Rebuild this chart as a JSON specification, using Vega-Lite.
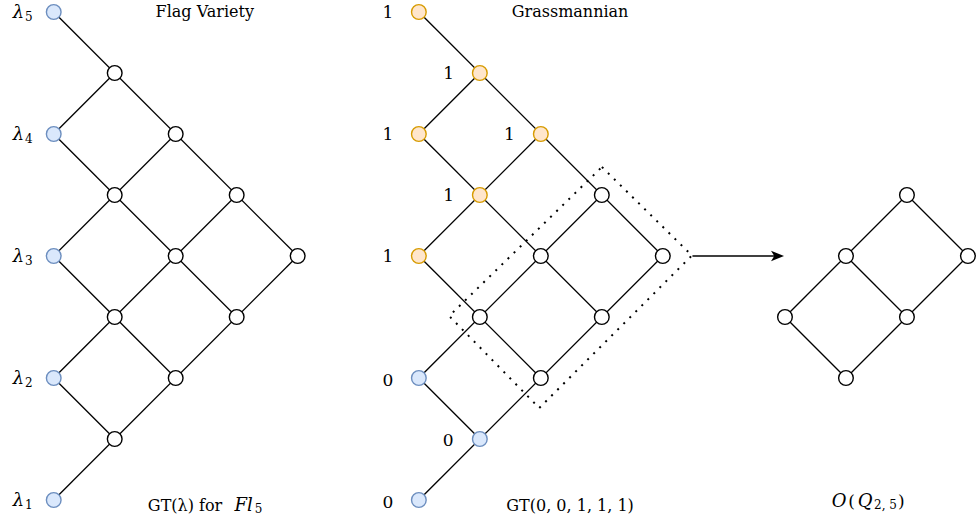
{
  "$schema": "https://vega.github.io/schema/vega-lite/v6.json",
  "width": 979,
  "height": 521,
  "autosize": {"type": "fit", "contains": "padding"},
  "padding": 0,
  "background": "#ffffff",
  "config": {"view": {"stroke": null}},
  "datasets": {
    "edges": [
      {"x": 54, "y": 12, "x2": 299.2, "y2": 256},
      {"x": 54, "y": 134, "x2": 237.9, "y2": 317},
      {"x": 54, "y": 256, "x2": 176.6, "y2": 378},
      {"x": 54, "y": 378, "x2": 115.3, "y2": 439},
      {"x": 54, "y": 500, "x2": 299.2, "y2": 256},
      {"x": 54, "y": 378, "x2": 237.9, "y2": 195},
      {"x": 54, "y": 256, "x2": 176.6, "y2": 134},
      {"x": 54, "y": 134, "x2": 115.3, "y2": 73},
      {"x": 421, "y": 12, "x2": 666.2, "y2": 256},
      {"x": 421, "y": 134, "x2": 604.9, "y2": 317},
      {"x": 421, "y": 256, "x2": 543.6, "y2": 378},
      {"x": 421, "y": 378, "x2": 482.3, "y2": 439},
      {"x": 421, "y": 500, "x2": 666.2, "y2": 256},
      {"x": 421, "y": 378, "x2": 604.9, "y2": 195},
      {"x": 421, "y": 256, "x2": 543.6, "y2": 134},
      {"x": 421, "y": 134, "x2": 482.3, "y2": 73},
      {"x": 789, "y": 317, "x2": 911.6, "y2": 195},
      {"x": 850.3, "y": 378, "x2": 972.9, "y2": 256},
      {"x": 789, "y": 317, "x2": 850.3, "y2": 378},
      {"x": 850.3, "y": 256, "x2": 911.6, "y2": 317},
      {"x": 911.6, "y": 195, "x2": 972.9, "y2": 256},
      {"x": 696, "y": 256, "x2": 782, "y2": 256}
    ],
    "box": [
      {"o": 0, "x": 605, "y": 167},
      {"o": 1, "x": 695.5, "y": 255.5},
      {"o": 2, "x": 542, "y": 408},
      {"o": 3, "x": 451.5, "y": 316},
      {"o": 4, "x": 605, "y": 167}
    ],
    "arrow": [{"x": 781.5, "y": 256}],
    "nodes": [
      {"x": 54, "y": 12, "k": "blue"},
      {"x": 54, "y": 134, "k": "blue"},
      {"x": 54, "y": 256, "k": "blue"},
      {"x": 54, "y": 378, "k": "blue"},
      {"x": 54, "y": 500, "k": "blue"},
      {"x": 115.3, "y": 73, "k": "white"},
      {"x": 176.6, "y": 134, "k": "white"},
      {"x": 115.3, "y": 195, "k": "white"},
      {"x": 237.9, "y": 195, "k": "white"},
      {"x": 176.6, "y": 256, "k": "white"},
      {"x": 299.2, "y": 256, "k": "white"},
      {"x": 115.3, "y": 317, "k": "white"},
      {"x": 237.9, "y": 317, "k": "white"},
      {"x": 176.6, "y": 378, "k": "white"},
      {"x": 115.3, "y": 439, "k": "white"},
      {"x": 421, "y": 12, "k": "orange"},
      {"x": 482.3, "y": 73, "k": "orange"},
      {"x": 421, "y": 134, "k": "orange"},
      {"x": 543.6, "y": 134, "k": "orange"},
      {"x": 482.3, "y": 195, "k": "orange"},
      {"x": 421, "y": 256, "k": "orange"},
      {"x": 421, "y": 378, "k": "blue"},
      {"x": 482.3, "y": 439, "k": "blue"},
      {"x": 421, "y": 500, "k": "blue"},
      {"x": 604.9, "y": 195, "k": "white"},
      {"x": 543.6, "y": 256, "k": "white"},
      {"x": 666.2, "y": 256, "k": "white"},
      {"x": 482.3, "y": 317, "k": "white"},
      {"x": 604.9, "y": 317, "k": "white"},
      {"x": 543.6, "y": 378, "k": "white"},
      {"x": 911.6, "y": 195, "k": "white"},
      {"x": 850.3, "y": 256, "k": "white"},
      {"x": 972.9, "y": 256, "k": "white"},
      {"x": 789, "y": 317, "k": "white"},
      {"x": 911.6, "y": 317, "k": "white"},
      {"x": 850.3, "y": 378, "k": "white"}
    ],
    "normal": [
      {"x": 205.8, "y": 17.3, "t": "Flag Variety"},
      {"x": 573, "y": 17.3, "t": "Grassmannian"},
      {"x": 186, "y": 510.5, "t": "GT(λ) for"},
      {"x": 573, "y": 510.5, "t": "GT(0, 0, 1, 1, 1)"}
    ],
    "digits": [
      {"x": 390, "y": 18, "t": "1"},
      {"x": 451, "y": 79, "t": "1"},
      {"x": 390, "y": 140, "t": "1"},
      {"x": 512, "y": 140, "t": "1"},
      {"x": 451, "y": 201, "t": "1"},
      {"x": 390, "y": 262, "t": "1"},
      {"x": 390, "y": 386, "t": "0"},
      {"x": 450.5, "y": 445.5, "t": "0"},
      {"x": 390, "y": 507.5, "t": "0"},
      {"x": 856, "y": 506.5, "t": "("},
      {"x": 906, "y": 506.5, "t": ")"}
    ],
    "italic": [
      {"x": 18.5, "y": 18, "t": "λ"},
      {"x": 18.5, "y": 140, "t": "λ"},
      {"x": 18.5, "y": 262, "t": "λ"},
      {"x": 18.5, "y": 384, "t": "λ"},
      {"x": 18.5, "y": 506, "t": "λ"},
      {"x": 245, "y": 510.5, "t": "Fl"},
      {"x": 843.5, "y": 506.5, "t": "O"},
      {"x": 869.5, "y": 506.5, "t": "Q"}
    ],
    "sub": [
      {"x": 29, "y": 21, "t": "5"},
      {"x": 29, "y": 143, "t": "4"},
      {"x": 29, "y": 265, "t": "3"},
      {"x": 29, "y": 387, "t": "2"},
      {"x": 29, "y": 509, "t": "1"},
      {"x": 260, "y": 513, "t": "5"},
      {"x": 890, "y": 509, "t": "2, 5"}
    ]
  },
  "layer": [
    {
      "data": {"name": "edges"},
      "mark": {"type": "rule", "color": "#000000", "strokeWidth": 1.3},
      "encoding": {
        "x": {"field": "x", "type": "quantitative", "scale": {"domain": [0, 979], "nice": false, "zero": false}, "axis": null},
        "y": {"field": "y", "type": "quantitative", "scale": {"domain": [0, 521], "nice": false, "zero": false, "reverse": true}, "axis": null},
        "x2": {"field": "x2"},
        "y2": {"field": "y2"}
      }
    },
    {
      "data": {"name": "box"},
      "mark": {"type": "line", "color": "#000000", "strokeWidth": 2, "strokeDash": [2, 6.5], "strokeCap": "butt"},
      "encoding": {
        "x": {"field": "x", "type": "quantitative", "scale": {"domain": [0, 979], "nice": false, "zero": false}, "axis": null},
        "y": {"field": "y", "type": "quantitative", "scale": {"domain": [0, 521], "nice": false, "zero": false, "reverse": true}, "axis": null},
        "order": {"field": "o", "type": "quantitative"}
      }
    },
    {
      "data": {"name": "arrow"},
      "mark": {"type": "point", "shape": "M1,0 L-1,-0.8 L-0.5,0 L-1,0.8 Z", "size": 169, "filled": true, "color": "#000000", "opacity": 1},
      "encoding": {
        "x": {"field": "x", "type": "quantitative", "scale": {"domain": [0, 979], "nice": false, "zero": false}, "axis": null},
        "y": {"field": "y", "type": "quantitative", "scale": {"domain": [0, 521], "nice": false, "zero": false, "reverse": true}, "axis": null}
      }
    },
    {
      "data": {"name": "nodes"},
      "mark": {"type": "point", "shape": "circle", "size": 215, "filled": false, "strokeWidth": 1.4, "opacity": 1, "fillOpacity": 1, "strokeOpacity": 1},
      "encoding": {
        "x": {"field": "x", "type": "quantitative", "scale": {"domain": [0, 979], "nice": false, "zero": false}, "axis": null},
        "y": {"field": "y", "type": "quantitative", "scale": {"domain": [0, 521], "nice": false, "zero": false, "reverse": true}, "axis": null},
        "fill": {"field": "k", "type": "nominal", "scale": {"domain": ["blue", "orange", "white"], "range": ["#dae8fc", "#ffe6cc", "#ffffff"]}, "legend": null},
        "stroke": {"field": "k", "type": "nominal", "scale": {"domain": ["blue", "orange", "white"], "range": ["#6c8ebf", "#d79b00", "#000000"]}, "legend": null}
      }
    },
    {
      "data": {"name": "normal"},
      "mark": {"type": "text", "font": "DejaVu Serif, Liberation Serif, serif", "fontSize": 16, "align": "center", "baseline": "alphabetic", "color": "#000000"},
      "encoding": {
        "x": {"field": "x", "type": "quantitative", "scale": {"domain": [0, 979], "nice": false, "zero": false}, "axis": null},
        "y": {"field": "y", "type": "quantitative", "scale": {"domain": [0, 521], "nice": false, "zero": false, "reverse": true}, "axis": null},
        "text": {"field": "t", "type": "nominal"}
      }
    },
    {
      "data": {"name": "digits"},
      "mark": {"type": "text", "font": "DejaVu Serif, Liberation Serif, serif", "fontSize": 17, "align": "center", "baseline": "alphabetic", "color": "#000000"},
      "encoding": {
        "x": {"field": "x", "type": "quantitative", "scale": {"domain": [0, 979], "nice": false, "zero": false}, "axis": null},
        "y": {"field": "y", "type": "quantitative", "scale": {"domain": [0, 521], "nice": false, "zero": false, "reverse": true}, "axis": null},
        "text": {"field": "t", "type": "nominal"}
      }
    },
    {
      "data": {"name": "italic"},
      "mark": {"type": "text", "font": "DejaVu Serif, Liberation Serif, serif", "fontStyle": "italic", "fontSize": 18, "align": "center", "baseline": "alphabetic", "color": "#000000"},
      "encoding": {
        "x": {"field": "x", "type": "quantitative", "scale": {"domain": [0, 979], "nice": false, "zero": false}, "axis": null},
        "y": {"field": "y", "type": "quantitative", "scale": {"domain": [0, 521], "nice": false, "zero": false, "reverse": true}, "axis": null},
        "text": {"field": "t", "type": "nominal"}
      }
    },
    {
      "data": {"name": "sub"},
      "mark": {"type": "text", "font": "DejaVu Serif, Liberation Serif, serif", "fontSize": 12, "align": "center", "baseline": "alphabetic", "color": "#000000"},
      "encoding": {
        "x": {"field": "x", "type": "quantitative", "scale": {"domain": [0, 979], "nice": false, "zero": false}, "axis": null},
        "y": {"field": "y", "type": "quantitative", "scale": {"domain": [0, 521], "nice": false, "zero": false, "reverse": true}, "axis": null},
        "text": {"field": "t", "type": "nominal"}
      }
    }
  ]
}
